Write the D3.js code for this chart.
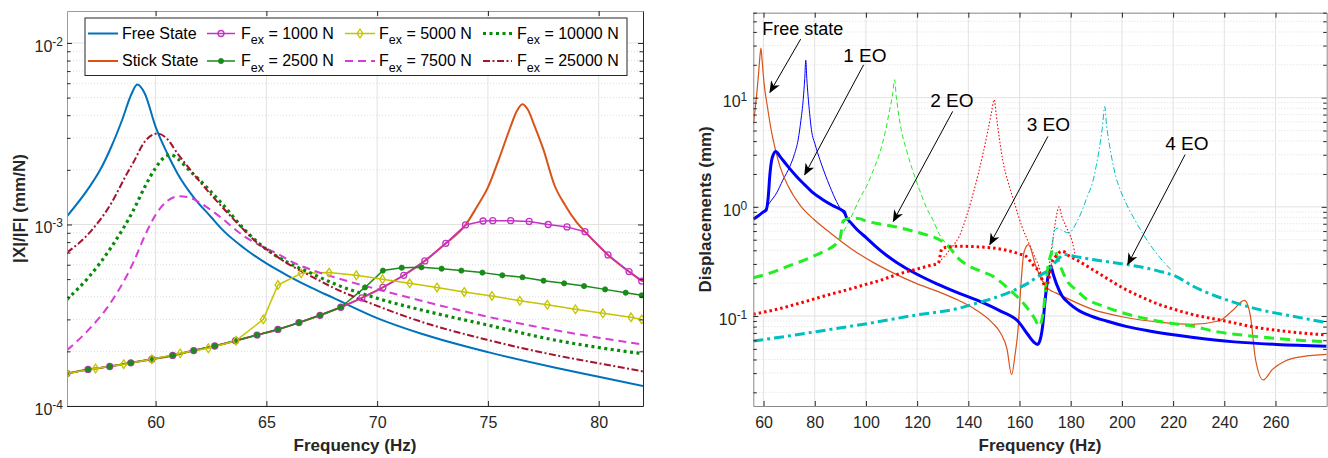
<!DOCTYPE html>
<html><head><meta charset="utf-8">
<script src="https://cdn.jsdelivr.net/npm/d3@7"></script>
<style>body{margin:0;background:#fff;} svg{display:block;font-family:"Liberation Sans",Arial,Helvetica,sans-serif;}</style>
</head><body><svg id="c" width="1328" height="458"></svg>
<script>
// ---------------- LEFT CHART DATA: [frequency Hz, |X|/|F| mm/N] ----------------
const leftXTicks = [60, 65, 70, 75, 80];
const leftYMajor = [[1e-4, "-4"], [1e-3, "-3"], [1e-2, "-2"]];
const freeStateL = [[56,1.11e-3],[57,1.6e-3],[57.5,2.0e-3],[58,2.68e-3],[58.5,3.8e-3],[58.9,5.2e-3],[59.17,5.9e-3],[59.5,5.3e-3],[60,3.45e-3],[60.5,2.5e-3],[61,1.9e-3],[61.7,1.42e-3],[62.5,1.1e-3],[63,9.4e-4],[64,7.4e-4],[65,6.1e-4],[66,5.2e-4],[67,4.5e-4],[68,3.95e-4],[70,3.05e-4],[72,2.5e-4],[75,1.98e-4],[78,1.63e-4],[80,1.45e-4],[82,1.29e-4]];
const stickStateL = [[56,1.51e-4],[56.95,1.59e-4],[57.93,1.65e-4],[58.88,1.73e-4],[59.83,1.81e-4],[60.77,1.9e-4],[61.72,2.02e-4],[62.67,2.14e-4],[63.61,2.29e-4],[64.58,2.46e-4],[65.52,2.64e-4],[66.47,2.88e-4],[67.42,3.16e-4],[68.36,3.5e-4],[69.31,3.94e-4],[70.26,4.5e-4],[71.2,5.25e-4],[72.15,6.3e-4],[73.1,7.87e-4],[73.99,9.94e-4],[74.5,1.25e-3],[75,1.6e-3],[75.5,2.3e-3],[76,3.4e-3],[76.3,4.2e-3],[76.55,4.6e-3],[76.8,4.3e-3],[77.1,3.5e-3],[77.5,2.6e-3],[78,1.65e-3],[78.5,1.27e-3],[79,1.03e-3],[79.38,9.13e-4],[80.42,6.8e-4],[81.37,5.5e-4],[82,4.85e-4]];
const f1000 = [[56,1.51e-4],[56.95,1.59e-4],[57.93,1.65e-4],[58.88,1.73e-4],[59.83,1.81e-4],[60.77,1.9e-4],[61.72,2.02e-4],[62.67,2.14e-4],[63.61,2.29e-4],[64.58,2.46e-4],[65.52,2.64e-4],[66.47,2.88e-4],[67.42,3.16e-4],[68.36,3.5e-4],[69.31,3.94e-4],[70.26,4.5e-4],[71.2,5.25e-4],[72.15,6.3e-4],[73.1,7.87e-4],[73.99,9.94e-4],[74.78,1.045e-3],[75.22,1.05e-3],[76.03,1.05e-3],[76.86,1.04e-3],[77.72,1.0e-3],[78.57,9.7e-4],[79.38,9.13e-4],[80.42,6.8e-4],[81.37,5.5e-4],[81.94,4.88e-4]];
const f2500 = [[56,1.51e-4],[56.95,1.59e-4],[57.93,1.65e-4],[58.88,1.73e-4],[59.83,1.81e-4],[60.77,1.9e-4],[61.72,2.02e-4],[62.67,2.14e-4],[63.61,2.29e-4],[64.58,2.46e-4],[65.52,2.64e-4],[66.47,2.88e-4],[67.42,3.16e-4],[68.36,3.5e-4],[69.45,4.5e-4],[70.26,5.57e-4],[71.11,5.78e-4],[72.0,5.81e-4],[72.91,5.71e-4],[73.8,5.57e-4],[74.75,5.43e-4],[75.65,5.25e-4],[76.56,5.12e-4],[77.51,4.9e-4],[78.44,4.74e-4],[79.34,4.58e-4],[80.29,4.39e-4],[81.22,4.21e-4],[81.94,4.07e-4]];
const f5000 = [[56,1.51e-4],[57.29,1.61e-4],[58.56,1.7e-4],[59.83,1.81e-4],[61.11,1.95e-4],[62.38,2.08e-4],[63.63,2.29e-4],[64.86,3.0e-4],[65.52,4.64e-4],[66.57,5.38e-4],[67.83,5.43e-4],[69.06,5.25e-4],[70.24,4.99e-4],[71.47,4.74e-4],[72.7,4.5e-4],[73.93,4.25e-4],[75.18,4.04e-4],[76.44,3.8e-4],[77.68,3.61e-4],[78.95,3.41e-4],[80.19,3.24e-4],[81.46,3.08e-4],[81.94,3.0e-4]];
const f7500 = [[56,2.03e-4],[57,2.65e-4],[58,3.75e-4],[59,6.2e-4],[59.5,8.6e-4],[60,1.13e-3],[60.5,1.34e-3],[61.05,1.43e-3],[61.5,1.41e-3],[62,1.32e-3],[62.5,1.2e-3],[63,1.08e-3],[63.5,9.6e-4],[64,8.6e-4],[64.6,7.8e-4],[65.5,6.9e-4],[66.3,6.1e-4],[67,5.65e-4],[68,5.15e-4],[70,4.4e-4],[72,3.8e-4],[75,3.1e-4],[78,2.62e-4],[80,2.38e-4],[82,2.18e-4]];
const f10000 = [[56,3.87e-4],[57,5.16e-4],[58,7.5e-4],[59,1.2e-3],[59.5,1.6e-3],[60,2.05e-3],[60.4,2.35e-3],[60.7,2.42e-3],[61,2.3e-3],[61.5,2.0e-3],[62,1.75e-3],[63,1.3e-3],[64,9.4e-4],[64.6,8.0e-4],[65,7.3e-4],[66,6.15e-4],[67,5.4e-4],[68,4.75e-4],[70,3.92e-4],[72,3.38e-4],[75,2.79e-4],[78,2.31e-4],[80,2.1e-4],[82,1.94e-4]];
const f25000 = [[56,7.0e-4],[57,8.97e-4],[58,1.31e-3],[58.7,1.9e-3],[59,2.2e-3],[59.5,2.85e-3],[60.1,3.17e-3],[60.5,2.98e-3],[61,2.45e-3],[61.5,2.05e-3],[62,1.72e-3],[63,1.25e-3],[64,9.3e-4],[64.6,7.9e-4],[65,7.3e-4],[66,6.05e-4],[67,5.2e-4],[68,4.5e-4],[70,3.56e-4],[72,2.91e-4],[75,2.31e-4],[78,1.91e-4],[80,1.72e-4],[82,1.55e-4]];

// ---------------- RIGHT CHART DATA: [frequency Hz, displacement mm] ----------------
const rightXTicks = [60, 80, 100, 120, 140, 160, 180, 200, 220, 240, 260];
const rightYMajor = [[0.1, "-1"], [1, "0"], [10, "1"]];
const freeStateR = [[56,5.66],[57,9],[58,16],[58.6,24],[59,28.5],[59.5,21],[60.2,13.6],[61.5,8.3],[63.2,4.75],[64.8,3.22],[66.4,2.35],[69.6,1.55],[74.6,1.01],[79.6,0.77],[86,0.58],[94.5,0.41],[102.8,0.31],[111,0.246],[119.4,0.2],[127.7,0.169],[136,0.14],[142.7,0.115],[149.3,0.087],[152.6,0.07],[155.1,0.05],[156.9,0.029],[158.3,0.045],[159.3,0.07],[160.6,0.2],[161.7,0.38],[163.5,0.45],[166.4,0.286],[169,0.209],[170.9,0.18],[174.2,0.163],[179.4,0.142],[188.5,0.115],[201.5,0.097],[214.4,0.088],[227.4,0.084],[237.8,0.09],[243,0.111],[247.9,0.139],[250.2,0.1],[252.2,0.04],[255.2,0.026],[258.8,0.0325],[263.8,0.0388],[270.5,0.0425],[280,0.0446]];
const eo1Linear = [[56,0.77],[58,0.83],[60,0.91],[62.5,1.1],[65.1,1.34],[67.5,1.75],[70.3,2.35],[72,3.0],[73.5,4.1],[74.6,6.2],[75.5,9.6],[76.1,15],[76.5,22],[76.9,15],[77.4,10.3],[78,7.2],[78.7,5.1],[80.2,3.7],[82,2.71],[84,2.0],[85.9,1.54],[88.5,1.12],[91.1,0.88],[92.2,0.82]];
const eo1 = [[56,0.77],[58,0.83],[60,0.9],[61,0.93],[61.8,1.2],[62.5,2.0],[63.2,2.7],[63.8,3.0],[64.8,3.22],[66.4,2.9],[69.5,2.35],[72.9,1.9],[76,1.6],[79.4,1.34],[83,1.17],[87,1.03],[91,0.92],[91.6,0.9],[92.2,0.82],[94,0.72],[96.5,0.62],[100.2,0.52],[104,0.43],[108,0.36],[112,0.31],[119.4,0.245],[127.7,0.197],[136,0.163],[144.3,0.137],[152.6,0.111],[159.3,0.09],[163.4,0.067],[165.5,0.058],[167,0.055],[168,0.06],[169,0.08],[170,0.14],[171,0.22],[172.2,0.286],[173.2,0.24],[174.5,0.195],[176.7,0.152],[179.5,0.13],[182.5,0.115],[188,0.1],[194,0.09],[202,0.08],[210.7,0.073],[227.3,0.064],[243.9,0.058],[260.5,0.055],[280,0.053]];
const eo2Linear = [[89.7,0.52],[92,0.64],[95,0.88],[97.5,1.18],[100.2,1.54],[103,2.2],[105.4,3.12],[107.5,4.8],[109.3,7.8],[110.5,11],[111.2,14.6],[111.8,10.5],[112.5,7.8],[114,4.8],[115.8,3.34],[118,2.25],[120.9,1.44],[123.5,1.0],[126.1,0.765],[128.7,0.56],[131,0.47]];
const eo2 = [[56,0.224],[62,0.245],[69.6,0.286],[77.9,0.34],[83,0.385],[86.2,0.42],[88.5,0.46],[89.8,0.5],[90.5,0.62],[91.1,0.74],[93,0.78],[95,0.79],[97.5,0.78],[100.2,0.74],[105,0.7],[110.5,0.665],[118.3,0.6],[124,0.55],[128.7,0.5],[132,0.44],[136.5,0.33],[140,0.29],[144.3,0.26],[149.5,0.232],[156,0.175],[162.5,0.123],[165.9,0.095],[167.7,0.081],[168.6,0.09],[169.3,0.11],[170.1,0.17],[170.9,0.26],[172,0.35],[173.3,0.41],[174.2,0.38],[175,0.33],[177,0.25],[179.2,0.2],[182,0.175],[185.8,0.145],[192,0.125],[201.5,0.105],[210,0.094],[219,0.086],[227.4,0.081],[235.6,0.073],[252.2,0.065],[265,0.061],[280,0.058]];
const eo3Linear = [[128.5,0.31],[131,0.36],[134,0.44],[136.5,0.54],[139.5,0.85],[143,1.66],[145.5,2.9],[147.5,4.8],[149,7.2],[150.1,9.6],[150.9,7.0],[151.7,5.0],[153.4,2.71],[155.5,1.7],[157.6,1.17],[160.9,0.665],[164.2,0.436],[167.5,0.287],[170.3,0.19],[171.5,0.28],[172.5,0.42],[173.5,0.6],[174.5,0.85],[175.5,1.0],[176.5,0.82],[178.1,0.665],[180.7,0.47],[182,0.34]];
const eo3 = [[56,0.104],[65,0.115],[75,0.133],[86,0.158],[95,0.18],[100,0.195],[105,0.21],[111,0.235],[116,0.255],[120,0.27],[125,0.29],[128.3,0.305],[129,0.36],[129.6,0.41],[131,0.425],[136,0.436],[144,0.43],[149.5,0.42],[155,0.4],[160,0.37],[162.5,0.353],[165,0.3],[167.7,0.25],[169,0.21],[170.3,0.18],[171.5,0.22],[172.5,0.3],[174.2,0.353],[176.8,0.393],[179,0.36],[182,0.33],[188.5,0.267],[195,0.215],[201.5,0.175],[208,0.148],[214.4,0.128],[220,0.116],[227.4,0.1035],[240.4,0.09],[252,0.079],[265,0.072],[280,0.067]];
const eo4Linear = [[172.4,0.27],[173.5,0.6],[175,0.64],[177,0.6],[179.4,0.578],[182,0.7],[184.6,0.945],[186.5,1.25],[188.5,1.66],[190,2.4],[191.1,3.34],[192.3,5.2],[193.3,8.3],[194,5.6],[195,3.85],[196.3,2.6],[197.6,1.9],[199.5,1.4],[201.5,1.09],[204.5,0.8],[208,0.578],[211,0.45],[214.4,0.353],[217,0.3],[219.6,0.26]];
const eo4 = [[56,0.059],[69.6,0.0656],[86.2,0.0755],[102.8,0.087],[119.4,0.102],[136.5,0.118],[145,0.135],[149.5,0.145],[156,0.165],[162.5,0.195],[167,0.228],[171.6,0.267],[175.5,0.34],[177.4,0.366],[182,0.35],[188.5,0.33],[201.5,0.297],[208,0.28],[214.4,0.258],[220.9,0.232],[227.4,0.19],[233,0.165],[240.4,0.142],[253.4,0.115],[266.4,0.1],[280,0.087]];
// annotations: label, text anchor [f, v], arrow tail [f, v], arrow head [f, v]
const annotLabels = ["Free state", "1 EO", "2 EO", "3 EO", "4 EO"];
const annotText = [[59.5, 42.7], [91.1, 24.7], [125.1, 9.58], [162.8, 5.74], [216.9, 3.85]];
const annotTail = [[74.5, 34.4], [99.1, 20], [133.9, 7.49], [171.1, 4.42], [224.7, 3.01]];
const annotHead = [[62.5, 11.2], [76.1, 1.97], [110.7, 0.738], [148.4, 0.452], [202.3, 0.297]];

// ---------------- DRAWING ----------------
const svg = d3.select("#c");
const xL = d3.scaleLinear().domain([56, 82]).range([67, 643]);
const yL = d3.scaleLog().domain([1e-4, 1.5e-2]).range([406, 11]);
const xR = d3.scaleLinear().domain([56, 280]).range([753.3, 1326.7]);
const yR = d3.scaleLog().domain([0.015, 60]).range([406, 12.7]);

function minorVals(y) {
  const [a, b] = y.domain(); const out = [];
  for (let e = Math.floor(Math.log10(a)); e <= Math.ceil(Math.log10(b)); e++)
    for (let k = 2; k <= 9; k++) { const v = k * Math.pow(10, e); if (v >= a && v <= b) out.push(v); }
  return out;
}

function panel(x, y, xTicks, yMajor, id) {
  const [x0, x1] = x.range(), [y0, y1] = y.range();
  const g = svg.append("g");
  const minors = minorVals(y);
  g.append("g").selectAll("line").data(minors).join("line")
    .attr("x1", x0).attr("x2", x1).attr("y1", d => y(d)).attr("y2", d => y(d))
    .attr("stroke", "#d6d6d6").attr("stroke-width", 0.8).attr("stroke-dasharray", "1,2");
  g.append("g").selectAll("line").data(yMajor.map(d => d[0])).join("line")
    .attr("x1", x0).attr("x2", x1).attr("y1", d => y(d)).attr("y2", d => y(d))
    .attr("stroke", "#e2e2e2").attr("stroke-width", 1);
  g.append("g").selectAll("line").data(xTicks).join("line")
    .attr("y1", y0).attr("y2", y1).attr("x1", d => x(d)).attr("x2", d => x(d))
    .attr("stroke", "#e2e2e2").attr("stroke-width", 1);
  svg.append("clipPath").attr("id", id).append("rect")
    .attr("x", x0).attr("y", y1).attr("width", x1 - x0).attr("height", y0 - y1);
  const plot = svg.append("g").attr("clip-path", `url(#${id})`);
  return { g, plot, x0, x1, y0, y1 };
}

function axes(P, x, y, xTicks, yMajor, spineColor, labelGap, fsY) {
  const { x0, x1, y0, y1 } = P;
  const ax = svg.append("g").attr("font-family", "Liberation Sans, Arial, sans-serif");
  const style = s => { s.selectAll("line").attr("stroke", "#262626"); s.select(".domain").attr("stroke", spineColor.b); s.selectAll("text").attr("fill", "#262626").attr("font-size", 16); };
  ax.append("g").attr("transform", `translate(0,${y0})`)
    .call(d3.axisBottom(x).tickValues(xTicks).tickSize(-5).tickSizeOuter(0).tickPadding(11).tickFormat(d3.format("d"))).call(style);
  ax.append("g").attr("transform", `translate(0,${y1})`)
    .call(d3.axisTop(x).tickValues(xTicks).tickSize(-5).tickSizeOuter(0).tickFormat("")).call(s => { style(s); s.select(".domain").attr("stroke", spineColor.t); });
  const minors = minorVals(y);
  [["L", x0, d3.axisLeft, spineColor.l], ["R", x1, d3.axisRight, spineColor.r]].forEach(([n, xp, fn, col]) => {
    ax.append("g").attr("transform", `translate(${xp},0)`)
      .call(fn(y).tickValues(yMajor.map(d => d[0])).tickSize(-5).tickSizeOuter(0).tickFormat(""))
      .call(s => { style(s); s.select(".domain").attr("stroke", col); });
    ax.append("g").attr("transform", `translate(${xp},0)`)
      .call(fn(y).tickValues(minors).tickSize(-3.5).tickSizeOuter(0).tickFormat(""))
      .call(s => { s.selectAll("line").attr("stroke", "#262626"); s.select(".domain").remove(); });
  });
  yMajor.forEach(([v, ex]) => {
    const t = ax.append("text").attr("x", x0 - labelGap).attr("y", y(v) + 9)
      .attr("text-anchor", "end").attr("font-size", fsY).attr("fill", "#262626");
    t.append("tspan").text("10");
    t.append("tspan").attr("dy", -6).attr("font-size", 12).text(ex);
  });
  return ax;
}

function path(parent, data, x, y, st, curve) {
  return parent.append("path").datum(data)
    .attr("d", d3.line().x(d => x(d[0])).y(d => y(d[1])).curve(curve || d3.curveMonotoneX))
    .attr("fill", "none").attr("stroke", st.c).attr("stroke-width", st.w)
    .attr("stroke-dasharray", st.dash || null).attr("stroke-linejoin", "round")
    .attr("stroke-linecap", st.cap || "butt");
}

// ---------- left chart ----------
const PL = panel(xL, yL, leftXTicks, leftYMajor, "clipL");
const stL = {
  free: { c: "#0072BD", w: 2 },
  stick: { c: "#D95319", w: 2 },
  f1000: { c: "#C532C5", w: 1.5 },
  f2500: { c: "#1A8A1A", w: 1.5 },
  f5000: { c: "#C4C400", w: 1.5 },
  f7500: { c: "#D63CD6", w: 2, dash: "8,5" },
  f10000: { c: "#0A8A0A", w: 3.2, dash: "3,3.5" },
  f25000: { c: "#A2142F", w: 2, dash: "7,2.5,2,2.5" }
};
path(PL.plot, freeStateL, xL, yL, stL.free);
path(PL.plot, stickStateL, xL, yL, stL.stick);
path(PL.plot, f1000, xL, yL, stL.f1000, d3.curveLinear);
path(PL.plot, f2500, xL, yL, stL.f2500, d3.curveLinear);
path(PL.plot, f5000, xL, yL, stL.f5000, d3.curveLinear);
path(PL.plot, f7500, xL, yL, stL.f7500);
path(PL.plot, f10000, xL, yL, stL.f10000);
path(PL.plot, f25000, xL, yL, stL.f25000);

function circleMk(g, cx, cy, col) { g.append("circle").attr("cx", cx).attr("cy", cy).attr("r", 3).attr("fill", "none").attr("stroke", col).attr("stroke-width", 1.3); }
function dotMk(g, cx, cy, col) { g.append("circle").attr("cx", cx).attr("cy", cy).attr("r", 2.6).attr("fill", col).attr("stroke", col).attr("stroke-width", 0.8); }
function diaMk(g, cx, cy, col) { g.append("path").attr("d", `M${cx},${cy - 4.3}L${cx + 2.9},${cy}L${cx},${cy + 4.3}L${cx - 2.9},${cy}Z`).attr("fill", "none").attr("stroke", col).attr("stroke-width", 1.3); }

f1000.forEach(d => circleMk(PL.plot, xL(d[0]), yL(d[1]), stL.f1000.c));
f2500.forEach(d => dotMk(PL.plot, xL(d[0]), yL(d[1]), stL.f2500.c));
f5000.forEach(d => diaMk(PL.plot, xL(d[0]), yL(d[1]), stL.f5000.c));

axes(PL, xL, yL, leftXTicks, leftYMajor, { b: "#262626", t: "#9a9a9a", l: "#9a9a9a", r: "#262626" }, 4, 16);

svg.append("text").attr("x", (PL.x0 + PL.x1) / 2).attr("y", 451).attr("text-anchor", "middle")
  .attr("font-size", 17).attr("font-weight", "bold").attr("fill", "#262626").text("Frequency (Hz)");
svg.append("text").attr("transform", `translate(19,${(PL.y0 + PL.y1) / 2}) rotate(-90)`).attr("dy", "0.35em")
  .attr("text-anchor", "middle").attr("font-size", 17).attr("font-weight", "bold").attr("fill", "#262626").text("|X|/|F| (mm/N)");

// legend
const legend = svg.append("g");
legend.append("rect").attr("x", 85).attr("y", 18).attr("width", 542).attr("height", 57.5)
  .attr("fill", "#fff").attr("stroke", "#262626").attr("stroke-width", 1);
const legCols = [[88, 118, 122], [207, 235, 241], [345, 375, 379], [483, 512, 517]];
const legRows = [33.5, 61];
const legItems = [
  { col: 0, row: 0, st: stL.free, label: "Free State" },
  { col: 0, row: 1, st: stL.stick, label: "Stick State" },
  { col: 1, row: 0, st: stL.f1000, force: "1000", mk: circleMk },
  { col: 1, row: 1, st: stL.f2500, force: "2500", mk: dotMk },
  { col: 2, row: 0, st: stL.f5000, force: "5000", mk: diaMk },
  { col: 2, row: 1, st: stL.f7500, force: "7500" },
  { col: 3, row: 0, st: stL.f10000, force: "10000" },
  { col: 3, row: 1, st: stL.f25000, force: "25000" }
];
legItems.forEach(it => {
  const [a, b, tx] = legCols[it.col]; const ly = legRows[it.row];
  legend.append("line").attr("x1", a).attr("x2", b).attr("y1", ly).attr("y2", ly)
    .attr("stroke", it.st.c).attr("stroke-width", it.st.w).attr("stroke-dasharray", it.st.dash || null);
  if (it.mk) it.mk(legend, (a + b) / 2, ly, it.st.c);
  const t = legend.append("text").attr("x", tx).attr("y", ly + 5).attr("font-size", 16).attr("fill", "#000");
  if (it.label) t.text(it.label);
  else {
    t.append("tspan").text("F");
    t.append("tspan").attr("dy", 5.5).attr("font-size", 12.5).text("ex");
    t.append("tspan").attr("dy", -5.5).text("\u00a0= " + it.force + " N");
  }
});

// ---------- right chart ----------
const PR = panel(xR, yR, rightXTicks, rightYMajor, "clipR");
const stR = {
  free: { c: "#D95319", w: 1.2 },
  b1: { c: "#0000FF", w: 1 }, B1: { c: "#0000FF", w: 3 },
  g1: { c: "#22EE22", w: 1, dash: "5,3" }, G1: { c: "#22EE22", w: 3, dash: "10,6" },
  r1: { c: "#FF0000", w: 1.1, dash: "1.5,2" }, R1: { c: "#FF0000", w: 3, dash: "2.5,3" },
  c1: { c: "#00BFBF", w: 1, dash: "6,2.5,1.5,2.5" }, C1: { c: "#00BFBF", w: 3, dash: "10,4,3,4" }
};
path(PR.plot, eo1Linear, xR, yR, stR.b1);
path(PR.plot, eo2Linear, xR, yR, stR.g1);
path(PR.plot, eo3Linear, xR, yR, stR.r1);
path(PR.plot, eo4Linear, xR, yR, stR.c1);
path(PR.plot, freeStateR, xR, yR, stR.free);
path(PR.plot, eo1, xR, yR, stR.B1);
path(PR.plot, eo2, xR, yR, stR.G1);
path(PR.plot, eo3, xR, yR, stR.R1);
path(PR.plot, eo4, xR, yR, stR.C1);

axes(PR, xR, yR, rightXTicks, rightYMajor, { b: "#8a8a8a", t: "#8a8a8a", l: "#8a8a8a", r: "#8a8a8a" }, 6, 16);
svg.append("text").attr("x", (PR.x0 + PR.x1) / 2).attr("y", 451).attr("text-anchor", "middle")
  .attr("font-size", 17).attr("font-weight", "bold").attr("fill", "#262626").text("Frequency (Hz)");
svg.append("text").attr("transform", `translate(705,${(PR.y0 + PR.y1) / 2}) rotate(-90)`).attr("dy", "0.35em")
  .attr("text-anchor", "middle").attr("font-size", 17).attr("font-weight", "bold").attr("fill", "#262626").text("Displacements (mm)");

// annotations
const defs = svg.append("defs");
defs.append("marker").attr("id", "ah").attr("viewBox", "0 0 12 10").attr("refX", 11).attr("refY", 5)
  .attr("markerWidth", 12).attr("markerHeight", 10).attr("markerUnits", "userSpaceOnUse").attr("orient", "auto")
  .append("path").attr("d", "M0,0 L12,5 L0,10 L3.5,5 Z").attr("fill", "#000");
annotLabels.forEach((lab, i) => {
  svg.append("text").attr("x", xR(annotText[i][0])).attr("y", yR(annotText[i][1])).attr("dy", "0.36em")
    .attr("font-size", i === 0 ? 18 : 19).attr("fill", "#000").text(lab);
  svg.append("line").attr("x1", xR(annotTail[i][0])).attr("y1", yR(annotTail[i][1]))
    .attr("x2", xR(annotHead[i][0])).attr("y2", yR(annotHead[i][1]))
    .attr("stroke", "#000").attr("stroke-width", 1).attr("marker-end", "url(#ah)");
});
</script></body></html>
